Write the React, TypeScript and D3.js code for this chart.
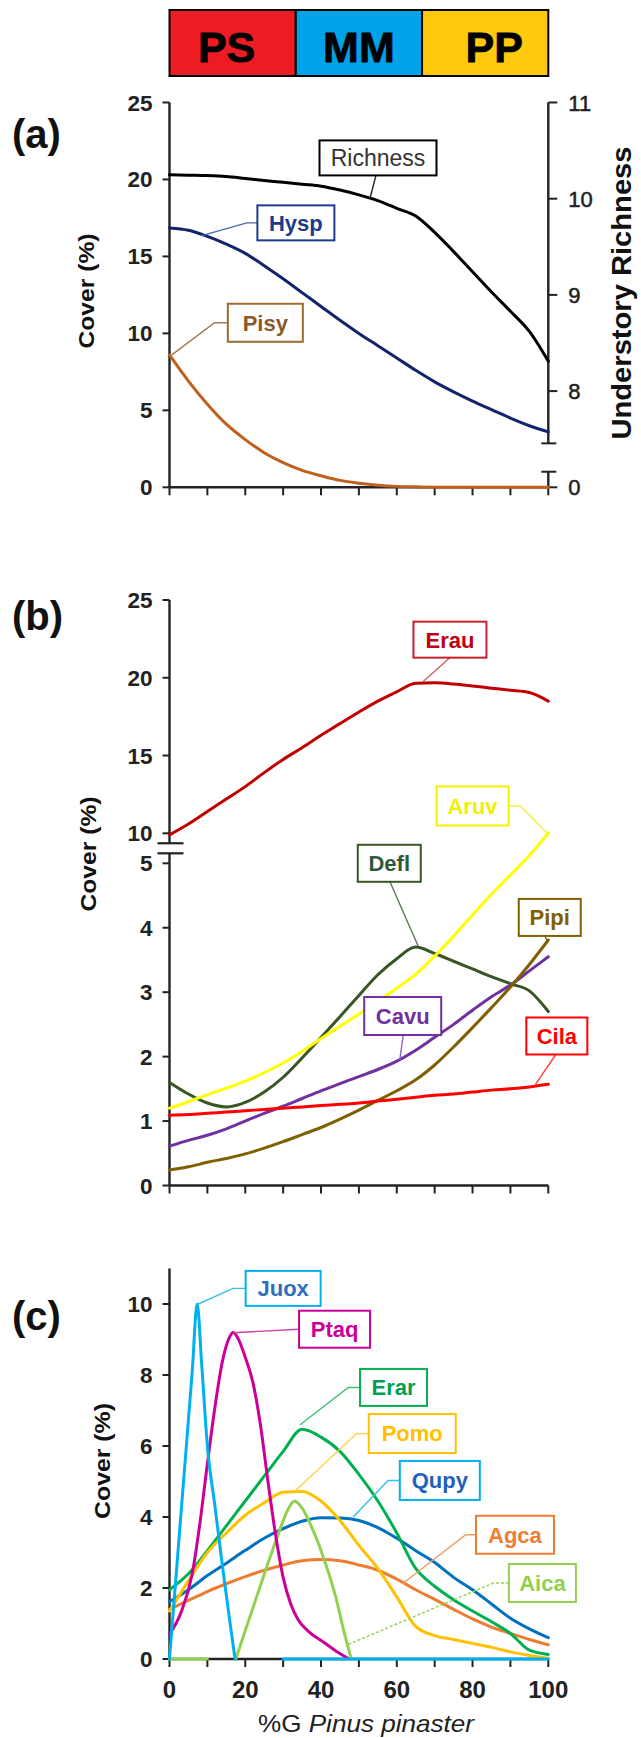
import React from 'react';
import * as d3 from 'd3';

const W = 641;
const H = 1738;
const FONT = '"Liberation Sans", Arial, Helvetica, sans-serif';

// ---------- header zones ----------
const zoneNames = ['PS', 'MM', 'PP'];
const zoneBounds = [0, 33.33, 66.67, 100];
const zoneColors = ['#ED1C24', '#00A2E8', '#FFC90E'];
const zoneTextShift = [-6, 0, 9];

// ---------- shared x grid (%G Pinus pinaster) ----------
const xGrid = [0, 5, 10, 15, 20, 25, 30, 35, 40, 45, 50, 55, 60, 65, 70, 75, 80, 85, 90, 95, 100];
const xTicks = [0, 10, 20, 30, 40, 50, 60, 70, 80, 90, 100];
const xTickLabels = [0, 20, 40, 60, 80, 100];

// ---------- panel (a) ----------
const richness = [10.25, 10.245, 10.24, 10.23, 10.21, 10.19, 10.17, 10.15, 10.13, 10.09, 10.04, 9.98, 9.9, 9.82, 9.65, 9.45, 9.24, 9.03, 8.83, 8.62, 8.31];
const hysp = [16.85, 16.7, 16.3, 15.8, 15.2, 14.4, 13.55, 12.65, 11.75, 10.85, 10.0, 9.2, 8.4, 7.6, 6.85, 6.2, 5.6, 5.05, 4.5, 4.0, 3.6];
const pisy = [8.6, 6.9, 5.4, 4.1, 3.1, 2.25, 1.6, 1.1, 0.75, 0.45, 0.27, 0.14, 0.06, 0.03, 0.01, 0, 0, 0, 0, 0, 0];
const ticksA = [0, 5, 10, 15, 20, 25];
const ticksRight = [7, 8, 9, 10, 11];
const ticksRightLabels = ['0', '8', '9', '10', '11'];

// ---------- panel (b) ----------
const erau = [9.9, 10.6, 11.4, 12.2, 13.0, 13.9, 14.75, 15.5, 16.3, 17.05, 17.8, 18.5, 19.1, 19.65, 19.68, 19.6, 19.47, 19.33, 19.2, 19.05, 18.5];
const aruv = [1.2, 1.3, 1.41, 1.51, 1.62, 1.75, 1.9, 2.08, 2.28, 2.47, 2.66, 2.86, 3.06, 3.28, 3.56, 3.87, 4.2, 4.52, 4.82, 5.12, 5.47];
const defl = [1.6, 1.42, 1.28, 1.22, 1.29, 1.45, 1.68, 1.98, 2.3, 2.62, 2.95, 3.27, 3.52, 3.7, 3.6, 3.48, 3.36, 3.24, 3.13, 3.02, 2.7];
const pipi = [0.24, 0.29, 0.36, 0.42, 0.49, 0.58, 0.68, 0.79, 0.9, 1.03, 1.17, 1.32, 1.47, 1.64, 1.87, 2.15, 2.45, 2.76, 3.08, 3.43, 3.81];
const cavu = [0.61, 0.7, 0.78, 0.88, 1.0, 1.12, 1.23, 1.35, 1.47, 1.58, 1.69, 1.8, 1.93, 2.1, 2.3, 2.5, 2.72, 2.93, 3.11, 3.33, 3.55];
const cila = [1.09, 1.1, 1.12, 1.14, 1.16, 1.18, 1.2, 1.22, 1.24, 1.26, 1.28, 1.31, 1.34, 1.37, 1.4, 1.42, 1.45, 1.48, 1.5, 1.53, 1.57];
const ticksBUpper = [10, 15, 20, 25];
const ticksBLower = [0, 1, 2, 3, 4, 5];

// ---------- panel (c) ----------
const erar = [1.95, 2.4, 3.05, 3.75, 4.45, 5.15, 5.85, 6.47, 6.25, 5.85, 5.2, 4.45, 3.55, 2.55, 2.05, 1.67, 1.35, 1.05, 0.72, 0.25, 0.13];
const pomo = [1.35, 2.2, 3.0, 3.55, 4.05, 4.4, 4.7, 4.72, 4.45, 3.9, 3.2, 2.55, 1.75, 0.92, 0.66, 0.55, 0.44, 0.33, 0.2, 0.1, 0.02];
const qupy = [1.61, 1.95, 2.35, 2.7, 3.06, 3.4, 3.67, 3.88, 3.98, 3.97, 3.9, 3.7, 3.4, 3.05, 2.72, 2.3, 1.95, 1.55, 1.15, 0.85, 0.6];
const agca = [1.4, 1.65, 1.9, 2.12, 2.32, 2.5, 2.65, 2.77, 2.8, 2.77, 2.65, 2.5, 2.25, 1.95, 1.68, 1.4, 1.13, 0.9, 0.72, 0.55, 0.4];
const juoxX = [0, 2, 4, 6, 7.3, 8.5, 10, 12, 14, 16, 17.3, 24, 30, 100];
const juoxY = [0, 2.7, 5.4, 8.1, 10, 8.3, 6.0, 4.3, 2.6, 1.0, 0, null, 0, 0];
const ptaqX = [0, 3, 6, 8, 10, 12, 14, 16, 16.8, 18, 20, 22, 24, 26, 28, 30, 32, 34, 37, 41, 44, 47];
const ptaqY = [0.7, 1.3, 2.4, 3.8, 5.5, 7.1, 8.4, 9.1, 9.2, 9.05, 8.5, 7.8, 6.6, 5.0, 3.5, 2.3, 1.55, 1.1, 0.75, 0.45, 0.22, 0.03];
const aicaX = [0, 5, 10, 14, 17.5, 20, 23, 26, 29, 31, 33, 35, 38, 41, 44, 46, 48];
const aicaY = [0, 0, 0, null, 0, 0.8, 1.75, 2.7, 3.6, 4.15, 4.45, 4.25, 3.6, 2.75, 1.7, 0.8, 0];
const ticksC = [0, 2, 4, 6, 8, 10];

// ---------- scales ----------
const x = d3.scaleLinear().domain([0, 100]).range([169.5, 548.3]);
const yA = d3.scaleLinear().domain([0, 25]).range([487.3, 102.5]);
const yR = d3.scaleLinear().domain([7, 11]).range([487.3, 102.5]);
const yBU = d3.scaleLinear().domain([10, 25]).range([833.3, 600]);
const yBL = d3.scaleLinear().domain([0, 5]).range([1185.5, 863.3]);
const yC = d3.scaleLinear().domain([0, 10]).range([1659, 1304]);

type Y = d3.ScaleLinear<number, number>;

function Curve({ xs, ys, ys2, color, w = 3 }: { xs: number[]; ys: (number | null)[]; ys2: Y; color: string; w?: number }) {
  const pts: [number, number | null][] = xs.map((v, i) => [v, ys[i]]);
  const gen = d3
    .line<[number, number | null]>()
    .defined((d) => d[1] !== null && d[1] !== undefined)
    .x((d) => x(d[0]))
    .y((d) => ys2(d[1] as number))
    .curve(d3.curveMonotoneX);
  return <path d={gen(pts) || ''} fill="none" stroke={color} strokeWidth={w} strokeLinejoin="round" strokeLinecap="round" />;
}

type LabelSpec = {
  text: string;
  ys: Y;
  x0: number;
  cy: number;
  w: number;
  h: number;
  from: 'left' | 'right' | 'bottom';
  fromX?: number;
  elbow?: number;
  ax: number;
  ay: number;
  ays?: Y;
  stroke: string;
  fill: string;
  lead: string;
  weight?: string;
  dashed?: boolean;
  fs?: number;
};

function Label({ s }: { s: LabelSpec }) {
  const bx = x(s.x0);
  const by = s.ys(s.cy) - s.h / 2;
  const cyPx = s.ys(s.cy);
  const ax = x(s.ax);
  const ay = (s.ays || s.ys)(s.ay);
  const pts: [number, number][] = [];
  if (s.from === 'left') {
    pts.push([bx, cyPx]);
    if (s.elbow !== undefined) pts.push([x(s.elbow), cyPx]);
  } else if (s.from === 'right') {
    pts.push([bx + s.w, cyPx]);
    if (s.elbow !== undefined) pts.push([x(s.elbow), cyPx]);
  } else {
    pts.push([x(s.fromX as number), by + s.h]);
  }
  pts.push([ax, ay]);
  const fs = s.fs || 22;
  return (
    <g>
      <path d={d3.line()(pts) || ''} fill="none" stroke={s.lead} strokeWidth={1.4} strokeDasharray={s.dashed ? '3 2' : undefined} />
      <rect x={bx} y={by} width={s.w} height={s.h} fill="#fff" stroke={s.stroke} strokeWidth={2} />
      <text x={bx + s.w / 2} y={cyPx + fs * 0.36} textAnchor="middle" fontSize={fs} fontWeight={s.weight || 'bold'} fill={s.fill}>
        {s.text}
      </text>
    </g>
  );
}

const labelsA: LabelSpec[] = [
  { text: 'Richness', ys: yA, x0: 39.6, cy: 21.4, w: 117, h: 35, from: 'bottom', fromX: 54.5, ax: 52.9, ay: 10.0, ays: yR, stroke: '#000', fill: '#333', lead: '#222', weight: 'normal', fs: 23 },
  { text: 'Hysp', ys: yA, x0: 23.2, cy: 17.18, w: 77, h: 35, from: 'left', elbow: 20.4, ax: 8.5, ay: 16.35, stroke: '#1F3A8A', fill: '#1F3A8A', lead: '#4A6AA8' },
  { text: 'Pisy', ys: yA, x0: 15.4, cy: 10.69, w: 75, h: 38, from: 'left', elbow: 11.9, ax: 0.6, ay: 8.6, stroke: '#9C6B30', fill: '#8B5A2B', lead: '#A07A50' },
];

const labelsB: LabelSpec[] = [
  { text: 'Erau', ys: yBU, x0: 64.4, cy: 22.45, w: 73, h: 36, from: 'bottom', fromX: 74, ax: 66.9, ay: 19.75, stroke: '#C8202C', fill: '#C00010', lead: '#D06060' },
  { text: 'Aruv', ys: yBL, x0: 70.5, cy: 5.89, w: 72, h: 39, from: 'right', elbow: 92.7, ax: 99.6, ay: 5.47, stroke: '#F2F200', fill: '#F0F000', lead: '#F0F040' },
  { text: 'Defl', ys: yBL, x0: 49.7, cy: 5.0, w: 63, h: 37, from: 'bottom', fromX: 58.2, ax: 65.6, ay: 3.72, stroke: '#385723', fill: '#2F5A3A', lead: '#5A7A50' },
  { text: 'Pipi', ys: yBL, x0: 92.2, cy: 4.16, w: 62, h: 37, from: 'bottom', fromX: 99.1, ax: 99.6, ay: 3.81, stroke: '#7F6000', fill: '#7F6000', lead: '#7F6000' },
  { text: 'Cavu', ys: yBL, x0: 51.4, cy: 2.63, w: 77, h: 38, from: 'bottom', fromX: 61.7, ax: 60.8, ay: 1.95, stroke: '#7030A0', fill: '#7030A0', lead: '#9060C0' },
  { text: 'Cila', ys: yBL, x0: 94.2, cy: 2.32, w: 61, h: 37, from: 'bottom', fromX: 102, ax: 96.6, ay: 1.57, stroke: '#FF0000', fill: '#FF0000', lead: '#FF4040' },
];

const labelsC: LabelSpec[] = [
  { text: 'Juox', ys: yC, x0: 20.1, cy: 10.44, w: 75, h: 35, from: 'left', elbow: 16.8, ax: 7.6, ay: 10.0, stroke: '#00B0F0', fill: '#2E6FC0', lead: '#30C0F0' },
  { text: 'Ptaq', ys: yC, x0: 34.2, cy: 9.29, w: 71, h: 37, from: 'left', ax: 16.8, ay: 9.19, stroke: '#CC0099', fill: '#CC0099', lead: '#D040A8' },
  { text: 'Erar', ys: yC, x0: 50.3, cy: 7.65, w: 67, h: 37, from: 'left', elbow: 47.2, ax: 34.4, ay: 6.59, stroke: '#00B050', fill: '#00A050', lead: '#40C070' },
  { text: 'Pomo', ys: yC, x0: 52.6, cy: 6.35, w: 87, h: 39, from: 'left', elbow: 49.4, ax: 33, ay: 4.72, stroke: '#FFC000', fill: '#FFC000', lead: '#FFD040' },
  { text: 'Qupy', ys: yC, x0: 60.8, cy: 5.03, w: 80, h: 39, from: 'left', elbow: 57.7, ax: 48.5, ay: 4.0, stroke: '#00B0F0', fill: '#1F5FBF', lead: '#30C0F0' },
  { text: 'Agca', ys: yC, x0: 80.9, cy: 3.5, w: 78, h: 38, from: 'left', elbow: 78.2, ax: 61.5, ay: 2.12, stroke: '#ED7D31', fill: '#ED7D31', lead: '#F09A60' },
  { text: 'Aica', ys: yC, x0: 89.6, cy: 2.14, w: 67, h: 38, from: 'left', elbow: 85.5, ax: 47.2, ay: 0.41, stroke: '#92D050', fill: '#92D050', lead: '#92D050', dashed: true },
];

const AX = '#222';
const AW = 2.4;

function XAxis({ y0 }: { y0: number }) {
  return (
    <g>
      <line x1={x(0)} x2={x(100)} y1={y0} y2={y0} stroke={AX} strokeWidth={AW} />
      {xTicks.map((t) => (
        <line key={t} x1={x(t)} x2={x(t)} y1={y0} y2={y0 + 8} stroke={AX} strokeWidth={2} />
      ))}
    </g>
  );
}

function LeftTicks({ ticks, ys }: { ticks: number[]; ys: Y }) {
  return (
    <g>
      {ticks.map((t) => (
        <g key={t}>
          <line x1={x(0) - 7} x2={x(0)} y1={ys(t)} y2={ys(t)} stroke={AX} strokeWidth={2} />
          <text x={x(0) - 17} y={ys(t) + 8} textAnchor="end" fontSize={22.5} fontWeight="bold" fill="#222">
            {t}
          </text>
        </g>
      ))}
    </g>
  );
}

function VTitle({ cx, cy, text, fs, len }: { cx: number; cy: number; text: string; fs: number; len: number }) {
  return (
    <text transform={`translate(${cx},${cy}) rotate(-90)`} textAnchor="middle" dy="0.3em" fontSize={fs} fontWeight="bold" fill="#111" textLength={len} lengthAdjust="spacingAndGlyphs">
      {text}
    </text>
  );
}

export default function App() {
  const hTop = 10;
  const hBot = 76;
  return (
    <svg width={W} height={H} style={{ position: 'absolute', left: 0, top: 0, display: 'block' }} fontFamily={FONT}>
      <rect width={W} height={H} fill="#fff" />

      {/* header */}
      {zoneNames.map((n, i) => (
        <g key={n}>
          <rect x={x(zoneBounds[i])} y={hTop} width={x(zoneBounds[i + 1]) - x(zoneBounds[i])} height={hBot - hTop} fill={zoneColors[i]} stroke="#000" strokeWidth={2} />
          <text x={(x(zoneBounds[i]) + x(zoneBounds[i + 1])) / 2 + zoneTextShift[i]} y={61.5} textAnchor="middle" fontSize={43} fontWeight="bold" fill="#000" stroke="#000" strokeWidth={0.8}>
            {n}
          </text>
        </g>
      ))}

      {/* ---------------- panel (a) ---------------- */}
      <text x={12} y={148} fontSize={40} fontWeight="bold" fill="#111">(a)</text>
      <line x1={x(0)} x2={x(0)} y1={yA(0)} y2={yA(25)} stroke={AX} strokeWidth={AW} />
      <LeftTicks ticks={ticksA} ys={yA} />
      {/* right axis with break */}
      <line x1={x(100)} x2={x(100)} y1={yR(11)} y2={yR(7.457)} stroke={AX} strokeWidth={AW} />
      <line x1={x(100)} x2={x(100)} y1={yR(7.162)} y2={yR(7)} stroke={AX} strokeWidth={AW} />
      <line x1={x(100) - 7} x2={x(100) + 8} y1={yR(7.457)} y2={yR(7.457)} stroke={AX} strokeWidth={2} />
      <line x1={x(100) - 7} x2={x(100) + 8} y1={yR(7.162)} y2={yR(7.162)} stroke={AX} strokeWidth={2} />
      {ticksRight.map((t, i) => (
        <g key={t}>
          <line x1={x(100)} x2={x(100) + 9} y1={yR(t)} y2={yR(t)} stroke={AX} strokeWidth={2} />
          <text x={x(100) + 20} y={yR(t) + 8} fontSize={22} fontWeight="normal" stroke="#222" strokeWidth={0.5} fill="#222">
            {ticksRightLabels[i]}
          </text>
        </g>
      ))}
      <XAxis y0={yA(0)} />
      <VTitle cx={87} cy={291} text="Cover (%)" fs={22} len={115} />
      <VTitle cx={623} cy={293} text="Understory  Richness" fs={28} len={293} />
      <Curve xs={xGrid} ys={pisy} ys2={yA} color="#C0601C" />
      <Curve xs={xGrid} ys={hysp} ys2={yA} color="#14246A" />
      <Curve xs={xGrid} ys={richness} ys2={yR} color="#000" />
      {labelsA.map((s) => (
        <Label key={s.text} s={s} />
      ))}

      {/* ---------------- panel (b) ---------------- */}
      <text x={12} y={630} fontSize={40} fontWeight="bold" fill="#111">(b)</text>
      <line x1={x(0)} x2={x(0)} y1={yBU(25)} y2={yBU(9.36)} stroke={AX} strokeWidth={AW} />
      <line x1={x(0)} x2={x(0)} y1={yBL(5.155)} y2={yBL(0)} stroke={AX} strokeWidth={AW} />
      <line x1={x(0) - 12} x2={x(0) + 14} y1={yBU(9.36)} y2={yBU(9.36)} stroke={AX} strokeWidth={2.2} />
      <line x1={x(0) - 12} x2={x(0) + 14} y1={yBL(5.155)} y2={yBL(5.155)} stroke={AX} strokeWidth={2.2} />
      <LeftTicks ticks={ticksBUpper} ys={yBU} />
      <LeftTicks ticks={ticksBLower} ys={yBL} />
      <XAxis y0={yBL(0)} />
      <VTitle cx={89} cy={854} text="Cover (%)" fs={22} len={115} />
      <Curve xs={xGrid} ys={erau} ys2={yBU} color="#C00000" />
      <Curve xs={xGrid} ys={defl} ys2={yBL} color="#375623" />
      <Curve xs={xGrid} ys={aruv} ys2={yBL} color="#FFFF00" />
      <Curve xs={xGrid} ys={cavu} ys2={yBL} color="#7030A0" />
      <Curve xs={xGrid} ys={pipi} ys2={yBL} color="#7F6000" />
      <Curve xs={xGrid} ys={cila} ys2={yBL} color="#FF0000" />
      {labelsB.map((s) => (
        <Label key={s.text} s={s} />
      ))}

      {/* ---------------- panel (c) ---------------- */}
      <text x={12} y={1330} fontSize={40} fontWeight="bold" fill="#111">(c)</text>
      <line x1={x(0)} x2={x(0)} y1={yC(0)} y2={yC(11)} stroke={AX} strokeWidth={AW} />
      <LeftTicks ticks={ticksC} ys={yC} />
      <XAxis y0={yC(0)} />
      {xTickLabels.map((t) => (
        <text key={t} x={x(t)} y={yC(0) + 39} textAnchor="middle" fontSize={24} fontWeight="bold" fill="#222">
          {t}
        </text>
      ))}
      <VTitle cx={103} cy={1461} text="Cover (%)" fs={22} len={116} />
      <text x={366} y={1732} textAnchor="middle" fontSize={24} fill="#222" textLength={216} lengthAdjust="spacingAndGlyphs">
        %G <tspan fontStyle="italic">Pinus pinaster</tspan>
      </text>
      <Curve xs={xGrid} ys={agca} ys2={yC} color="#ED7D31" />
      <Curve xs={xGrid} ys={qupy} ys2={yC} color="#0070C0" />
      <Curve xs={xGrid} ys={erar} ys2={yC} color="#00B050" />
      <Curve xs={xGrid} ys={pomo} ys2={yC} color="#FFC000" />
      <Curve xs={aicaX} ys={aicaY} ys2={yC} color="#92D050" />
      <Curve xs={ptaqX} ys={ptaqY} ys2={yC} color="#CC0099" />
      <Curve xs={juoxX} ys={juoxY} ys2={yC} color="#00B0F0" />
      {labelsC.map((s) => (
        <Label key={s.text} s={s} />
      ))}
    </svg>
  );
}
